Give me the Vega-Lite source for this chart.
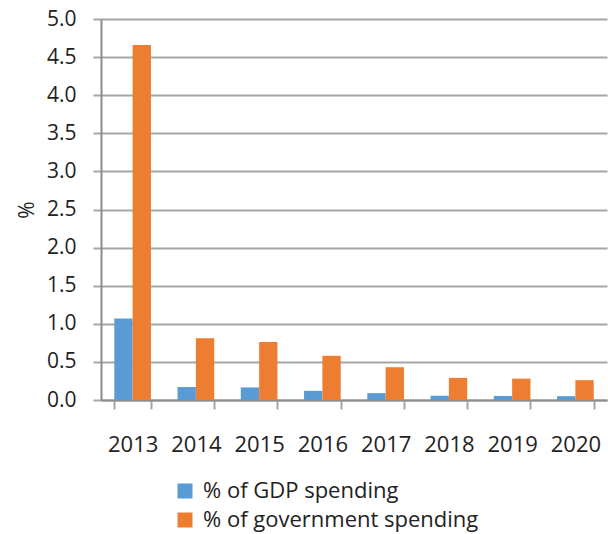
{
  "$schema": "https://vega.github.io/schema/vega-lite/v6.json",
  "width": 506,
  "height": 381,
  "autosize": {"type": "none"},
  "padding": {"left": 101, "top": 19, "right": 1, "bottom": 134},
  "background": "white",
  "config": {
    "font": "Open Sans",
    "view": {"stroke": null},
    "axis": {"labelColor": "#222222", "titleColor": "#222222"}
  },
  "data": {
    "values": [
      {"year": "2013", "series": "% of GDP spending", "value": 1.07},
      {"year": "2013", "series": "% of government spending", "value": 4.66},
      {"year": "2014", "series": "% of GDP spending", "value": 0.17},
      {"year": "2014", "series": "% of government spending", "value": 0.81},
      {"year": "2015", "series": "% of GDP spending", "value": 0.165},
      {"year": "2015", "series": "% of government spending", "value": 0.76},
      {"year": "2016", "series": "% of GDP spending", "value": 0.12},
      {"year": "2016", "series": "% of government spending", "value": 0.58},
      {"year": "2017", "series": "% of GDP spending", "value": 0.09},
      {"year": "2017", "series": "% of government spending", "value": 0.43},
      {"year": "2018", "series": "% of GDP spending", "value": 0.056},
      {"year": "2018", "series": "% of government spending", "value": 0.29},
      {"year": "2019", "series": "% of GDP spending", "value": 0.053},
      {"year": "2019", "series": "% of government spending", "value": 0.28},
      {"year": "2020", "series": "% of GDP spending", "value": 0.05},
      {"year": "2020", "series": "% of government spending", "value": 0.26}
    ]
  },
  "mark": {"type": "bar"},
  "encoding": {
    "x": {
      "field": "year",
      "type": "nominal",
      "scale": {"paddingInner": 0.42, "paddingOuter": 0.21},
      "axis": {
        "title": null,
        "labelAngle": 0,
        "labelFontSize": 22,
        "labelPadding": 25,
        "tickSize": 9,
        "tickWidth": 2,
        "tickColor": "#a6a6a6",
        "tickBand": "extent",
        "domainColor": "#8c8c8c",
        "domainWidth": 2,
        "grid": false
      }
    },
    "xOffset": {"field": "series", "type": "nominal"},
    "y": {
      "field": "value",
      "type": "quantitative",
      "scale": {"domain": [0, 5], "nice": false},
      "axis": {
        "title": "%",
        "titleFontSize": 21,
        "titleFontWeight": "normal",
        "titlePadding": 9,
        "values": [0, 0.5, 1, 1.5, 2, 2.5, 3, 3.5, 4, 4.5, 5],
        "format": ".1f",
        "labelFontSize": 21,
        "labelPadding": 17,
        "tickSize": 8,
        "tickWidth": 2,
        "tickColor": "#a6a6a6",
        "grid": true,
        "gridColor": "#a6a6a6",
        "gridWidth": 2,
        "domainColor": "#8c8c8c",
        "domainWidth": 2
      }
    },
    "color": {
      "field": "series",
      "type": "nominal",
      "scale": {"range": ["#5b9bd5", "#ed7d31"]},
      "legend": {
        "title": null,
        "orient": "none",
        "direction": "vertical",
        "legendX": 73,
        "legendY": 461,
        "padding": 0,
        "symbolType": "square",
        "symbolSize": 225,
        "symbolStrokeWidth": 0,
        "labelFontSize": 22,
        "labelLimit": 500,
        "labelColor": "#222222",
        "labelOffset": 7,
        "rowPadding": 7
      }
    }
  }
}
